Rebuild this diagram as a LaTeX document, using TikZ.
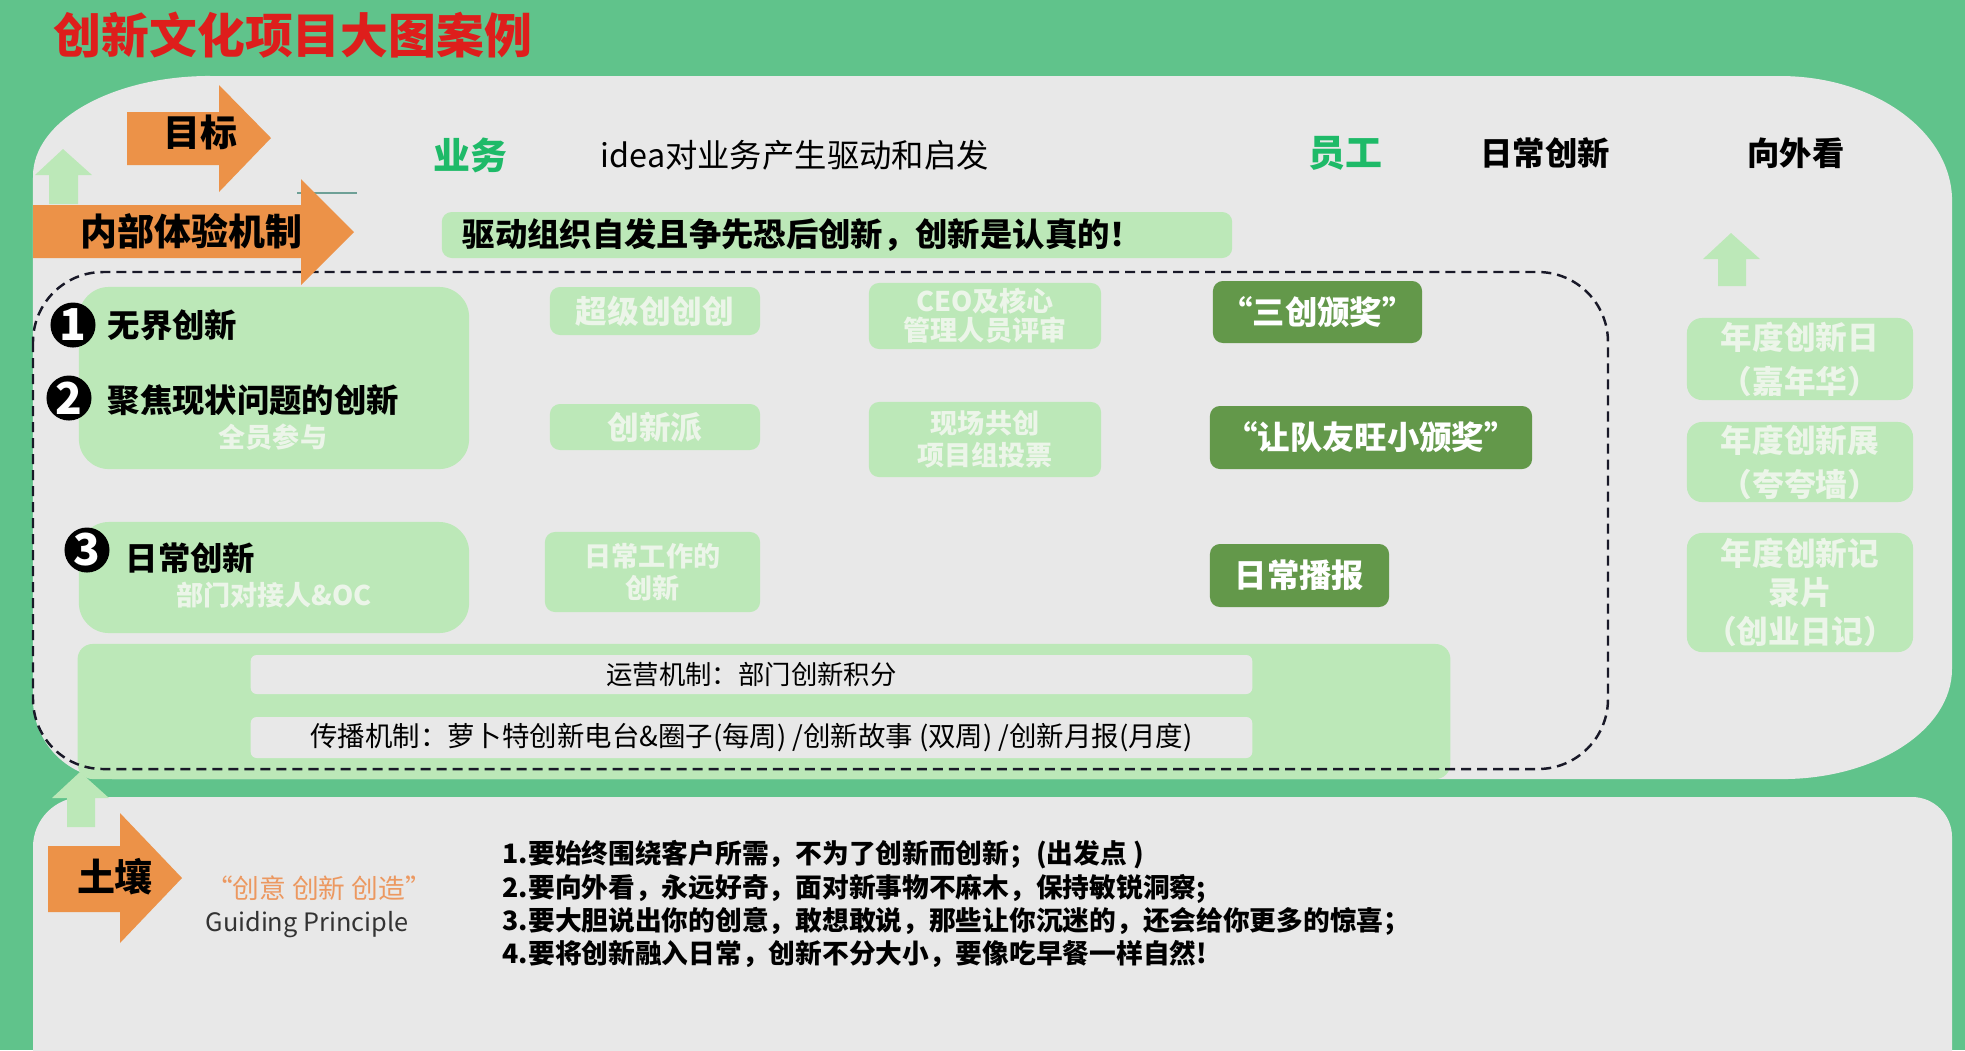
\documentclass[tikz,border=0pt]{standalone}
\usepackage{fontspec}
\setmainfont{Noto Sans CJK SC}
\usepackage{tikz}

\definecolor{bggreen}{RGB}{96,195,139}
\definecolor{panelgray}{RGB}{232,232,232}
\definecolor{palegreen}{RGB}{188,232,184}
\definecolor{paletext}{RGB}{236,245,233}
\definecolor{darkgreen}{RGB}{99,152,74}
\definecolor{arroworange}{RGB}{236,146,72}
\definecolor{titlered}{RGB}{222,30,28}
\definecolor{textgreen}{RGB}{30,186,104}
\definecolor{softorange}{RGB}{236,152,96}
\definecolor{dashblack}{RGB}{25,25,40}

\tikzset{
  palebox/.style={fill=palegreen, rounded corners=0.1cm, inner sep=0pt, align=center, text=paletext, font=\bfseries\fontsize{9}{12}\selectfont},
  darkbox/.style={fill=darkgreen, rounded corners=0.1cm, inner sep=0pt, text=white, font=\bfseries\fontsize{9.2}{11}\selectfont},
  graybox/.style={fill=panelgray, rounded corners=0.06cm, inner sep=0pt, font=\fontsize{7.5}{9}\selectfont},
  numdot/.style={circle, fill=black, text=white, inner sep=0pt, minimum size=0.45cm, font=\bfseries\fontsize{12.5}{12.5}\selectfont},
  heading/.style={anchor=west, inner sep=0pt, font=\bfseries\fontsize{9.2}{11}\selectfont},
  bigword/.style={inner sep=0pt, font=\bfseries\fontsize{10.5}{12}\selectfont},
  blockarrow/.style={fill=arroworange},
  liftarrow/.style={fill=palegreen},
}

\begin{document}
\begin{tikzpicture}[x=0.01cm, y=-0.01cm]
  \clip (0,0) rectangle (1965,1050);
  \fill[bggreen] (0,0) rectangle (1965,1050);
  % panels
  \fill[panelgray] (210,76) -- (1780,76) arc[start angle=90, end angle=0, x radius=1.72cm, y radius=1.25cm]
    -- (1952,669) arc[start angle=0, end angle=-90, x radius=1.7cm, y radius=1.1cm]
    -- (113,779) arc[start angle=-90, end angle=-180, radius=0.8cm]
    -- (33,176) arc[start angle=180, end angle=90, x radius=1.77cm, y radius=1cm] -- cycle;
  \fill[panelgray] (83,797) -- (1912,797) arc[start angle=90, end angle=0, radius=0.4cm]
    -- (1952,1100) -- (33,1100) -- (33,847) arc[start angle=180, end angle=90, radius=0.5cm] -- cycle;

  \node[anchor=west, inner sep=0pt, text=titlered, font=\bfseries\fontsize{13.6}{16}\selectfont] (title) at (53,35) {创新文化项目大图案例};

  % top row
  \node[bigword, text=textgreen] (biz) at (470,155) {业务};
  \node[anchor=west, inner sep=0pt, font=\fontsize{9.2}{11}\selectfont] (bizline) at (600,155) {idea对业务产生驱动和启发};
  \node[bigword, text=textgreen] (staff) at (1345,153) {员工};
  \node[heading, anchor=center] (daily) at (1545,153) {日常创新};
  \node[heading, anchor=center] (outward) at (1796,153) {向外看};
  \draw[color={rgb,255:red,110;green,160;blue,150}, line width=0.3pt] (297,193) -- (357,193);

  \node[palebox, minimum width=7.9cm, minimum height=0.46cm] (drivebox) at (837,235) {};
  \node[heading] (drive) at (462,235) {驱动组织自发且争先恐后创新，创新是认真的！};

  % inner mechanism
  \node[palebox, rounded corners=0.3cm, minimum width=3.9cm, minimum height=1.82cm] (wide) at (274,378) {};
  \node[palebox, rounded corners=0.3cm, minimum width=3.9cm, minimum height=1.11cm] (everyday) at (274,577.5) {};
  \node[numdot] (n1) at (73,325) {1};
  \node[heading] (borderless) at (107,325) {无界创新};
  \node[numdot] (n2) at (69,398) {2};
  \node[heading] (focus) at (107,400) {聚焦现状问题的创新};
  \node[inner sep=0pt, text=paletext, font=\bfseries\fontsize{7.7}{9}\selectfont] (all) at (273,437) {全员参与};
  \node[numdot] (n3) at (87,550) {3};
  \node[heading] (routine) at (125,558) {日常创新};
  \node[inner sep=0pt, text=paletext, font=\bfseries\fontsize{7.7}{9}\selectfont] (contact) at (274,595) {部门对接人\&OC};

  \node[palebox, minimum width=2.1cm, minimum height=0.48cm] (super) at (655,311) {超级创创创};
  \node[palebox, minimum width=2.1cm, minimum height=0.46cm] (pie) at (655,427) {创新派};
  \node[palebox, minimum width=2.15cm, minimum height=0.8cm, font=\bfseries\fontsize{7.7}{9}\selectfont] (work) at (652.5,572) {日常工作的\\创新};
  \node[palebox, minimum width=2.32cm, minimum height=0.66cm, font=\bfseries\fontsize{7.7}{8.3}\selectfont] (ceo) at (985,316) {CEO及核心\\管理人员评审};
  \node[palebox, minimum width=2.32cm, minimum height=0.75cm, font=\bfseries\fontsize{7.7}{9}\selectfont] (onsite) at (985,439.5) {现场共创\\项目组投票};

  \node[darkbox, minimum width=2.09cm, minimum height=0.62cm] (threeaward) at (1317.5,312) {“三创颁奖”};
  \node[darkbox, minimum width=3.22cm, minimum height=0.63cm] (teamaward) at (1371,437.5) {“让队友旺小颁奖”};
  \node[darkbox, minimum width=1.79cm, minimum height=0.63cm] (broadcast) at (1299.5,575.5) {日常播报};

  % outward
  \fill[liftarrow] (1718,286) -- (1718,259) -- (1703,259) -- (1731,233) -- (1760,259) -- (1746,259) -- (1746,286) -- cycle;
  \node[palebox, rounded corners=0.15cm, minimum width=2.26cm, minimum height=0.82cm, font=\bfseries\fontsize{9}{12.5}\selectfont] (yearday) at (1800,359) {年度创新日\\（嘉年华）};
  \node[palebox, rounded corners=0.15cm, minimum width=2.26cm, minimum height=0.8cm, font=\bfseries\fontsize{9}{12.5}\selectfont] (yearshow) at (1800,462) {年度创新展\\（夸夸墙）};
  \node[palebox, rounded corners=0.15cm, minimum width=2.26cm, minimum height=1.19cm, font=\bfseries\fontsize{9}{11}\selectfont] (yearfilm) at (1800,592.5) {年度创新记\\录片\\（创业日记）};

  % operation and spreading
  \node[palebox, rounded corners=0.15cm, minimum width=13.72cm, minimum height=1.35cm] (mechbox) at (764,711.5) {};
  \node[graybox, minimum width=10.01cm, minimum height=0.39cm] (ops) at (751.5,674.5) {运营机制：部门创新积分};
  \node[graybox, minimum width=10.01cm, minimum height=0.41cm, font=\fontsize{7.8}{9}\selectfont] (spread) at (751.5,737.5) {传播机制：萝卜特创新电台\&圈子(每周) /创新故事 (双周) /创新月报(月度)};

  \draw[dashblack, line width=0.7pt, dash pattern=on 0.1cm off 0.06cm, rounded corners=0.7cm] (33,272) rectangle (1608,769);

  % arrows
  \fill[liftarrow] (49,204) -- (49,175) -- (35,175) -- (63,149) -- (92,175) -- (78,175) -- (78,204) -- cycle;
  \fill[blockarrow] (127,112) -- (219,112) -- (219,85) -- (271,138) -- (219,192) -- (219,165) -- (127,165) -- cycle;
  \node[bigword] (goal) at (200,132) {目标};
  \fill[blockarrow] (33,205) -- (301,205) -- (301,179) -- (354,232) -- (301,285) -- (301,258) -- (33,258) -- cycle;
  \node[bigword, anchor=west] (inner) at (80,231) {内部体验机制};

  % soil
  \fill[liftarrow] (67,827) -- (67,798) -- (52,798) -- (80,772) -- (109,798) -- (95,798) -- (95,827) -- cycle;
  \fill[blockarrow] (48,846) -- (120,846) -- (120,813) -- (182,878) -- (120,943) -- (120,912) -- (48,912) -- cycle;
  \node[bigword, font=\bfseries\fontsize{10.8}{12}\selectfont] (soil) at (115,877) {土壤};
  \node[inner sep=0pt, text=softorange, font=\fontsize{7.6}{9}\selectfont] (motto) at (319,888) {“创意 创新 创造”};
  \node[inner sep=0pt, text=black!80, font=\fontsize{7.2}{9}\selectfont] (guide) at (307,925) {Guiding Principle};
  \node[anchor=west, inner sep=0pt, align=left, font=\bfseries\fontsize{7.6}{9.4}\selectfont] (principles) at (502,904) {1.要始终围绕客户所需，不为了创新而创新；(出发点 )\\2.要向外看，永远好奇，面对新事物不麻木，保持敏锐洞察;\\3.要大胆说出你的创意，敢想敢说，那些让你沉迷的，还会给你更多的惊喜；\\4.要将创新融入日常，创新不分大小，要像吃早餐一样自然!};
\end{tikzpicture}
\end{document}
